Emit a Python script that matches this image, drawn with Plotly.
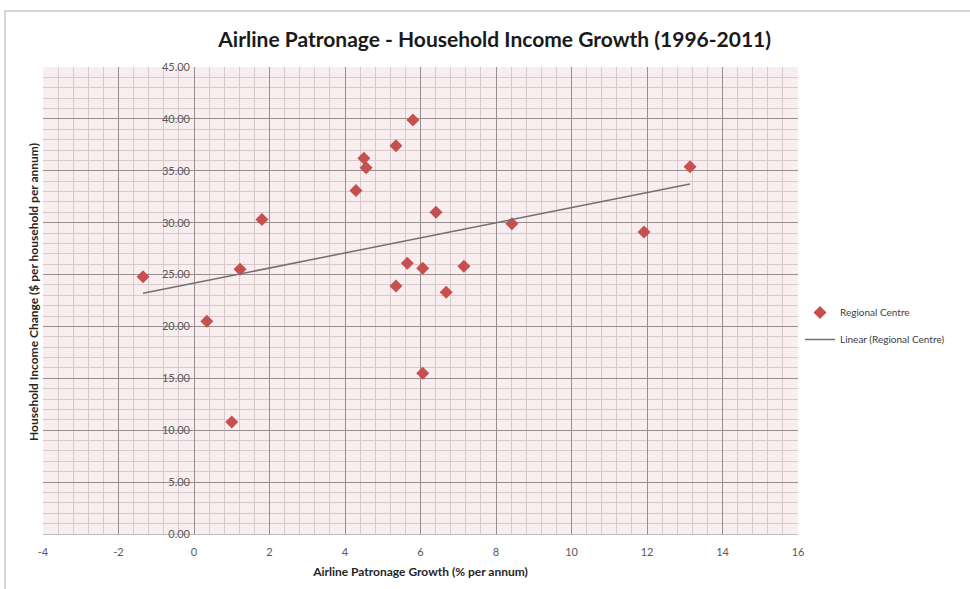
import numpy as np
import plotly.graph_objects as go

# Data
patronage_growth = [-1.35, 0.34, 1.00, 1.22, 1.80, 4.29, 4.50, 4.56, 5.35, 5.80,
                    5.35, 5.65, 6.06, 6.06, 6.41, 6.68, 7.15, 8.42, 11.92, 13.14]
income_change = [24.8, 20.5, 10.8, 25.5, 30.3, 33.1, 36.2, 35.3, 37.4, 39.9,
                 23.9, 26.1, 25.6, 15.5, 31.0, 23.3, 25.8, 29.9, 29.1, 35.4]

x_ticks = [-4, -2, 0, 2, 4, 6, 8, 10, 12, 14, 16]
y_ticks = [0, 5, 10, 15, 20, 25, 30, 35, 40, 45]

# Linear trendline (least squares) over data range
slope, intercept = np.polyfit(patronage_growth, income_change, 1)
trend_x = [min(patronage_growth), max(patronage_growth)]
trend_y = [slope * v + intercept for v in trend_x]

fig = go.Figure()
fig.add_trace(go.Scatter(
    x=patronage_growth, y=income_change, mode="markers",
    name="Regional Centre", legendgroup="a",
    marker=dict(symbol="diamond", size=10, color="#c5504f",
                line=dict(width=0)),
))
fig.add_trace(go.Scatter(
    x=trend_x, y=trend_y, mode="lines",
    name="Linear (Regional Centre)", legendgroup="b",
    line=dict(color="#707070", width=1.5),
))

L, R, T, B = 43, 172, 67, 55
W, H = 970, 589
pw = W - L - R
ph = H - T - B

def px_to_paper_x(px):
    return (px - L) / pw

def px_to_paper_y(py):
    return (H - B - py) / ph

fig.update_layout(
    width=W, height=H,
    margin=dict(l=L, r=R, t=T, b=B),
    paper_bgcolor="white",
    plot_bgcolor="#f8edef",
    font=dict(family="Lato, Open Sans, sans-serif", color="#404040"),
    title=dict(text="<b>Airline Patronage - Household Income Growth (1996-2011)</b>",
               x=0.51, xanchor="center", y=0.932, yanchor="middle",
               font=dict(size=21, color="#1a1a1a")),
    showlegend=True,
    legend=dict(x=px_to_paper_x(800), y=px_to_paper_y(298), xanchor="left", yanchor="top",
                bgcolor="rgba(0,0,0,0)", font=dict(size=10, color="#404040"),
                itemwidth=30, tracegroupgap=8),
    xaxis=dict(
        range=[-4, 16], tickvals=x_ticks, ticktext=[str(v) for v in x_ticks],
        showgrid=True, gridcolor="#988e90", gridwidth=1,
        minor=dict(dtick=0.4, tick0=-4, showgrid=True, gridcolor="#d9c9cc", gridwidth=1),
        zeroline=False, showline=True, linecolor="#bfbfbf",
        tickfont=dict(size=11, color="#595959"),
        ticklabelstandoff=8,
        title=dict(text="<b>Airline Patronage Growth (% per annum)</b>",
                   font=dict(size=12, color="#262626"), standoff=10),
        fixedrange=True,
    ),
    yaxis=dict(
        range=[0, 45], tickvals=y_ticks, ticktext=[f"{v:.2f}" for v in y_ticks],
        showgrid=True, gridcolor="#988e90", gridwidth=1,
        minor=dict(dtick=1, tick0=0, showgrid=True, gridcolor="#d9c9cc", gridwidth=1),
        zeroline=False, showline=False,
        anchor="free", position=0.2,
        ticklabelstandoff=4,
        tickfont=dict(size=11, color="#595959"),
        title=dict(text=""),
        fixedrange=True,
    ),
    annotations=[
        dict(text="<b>Household Income Change ($ per household per annum)</b>",
             xref="paper", yref="paper", x=px_to_paper_x(33), y=px_to_paper_y(292),
             textangle=-90, showarrow=False, xanchor="center", yanchor="middle",
             font=dict(size=12, color="#262626")),
    ],
    shapes=[
        dict(type="rect", xref="paper", yref="paper",
             x0=px_to_paper_x(5), x1=px_to_paper_x(980),
             y0=px_to_paper_y(600), y1=px_to_paper_y(11),
             line=dict(color="#c8c8c8", width=1.5), fillcolor="rgba(0,0,0,0)", layer="below"),
    ],
)

fig.write_html("out.html")
